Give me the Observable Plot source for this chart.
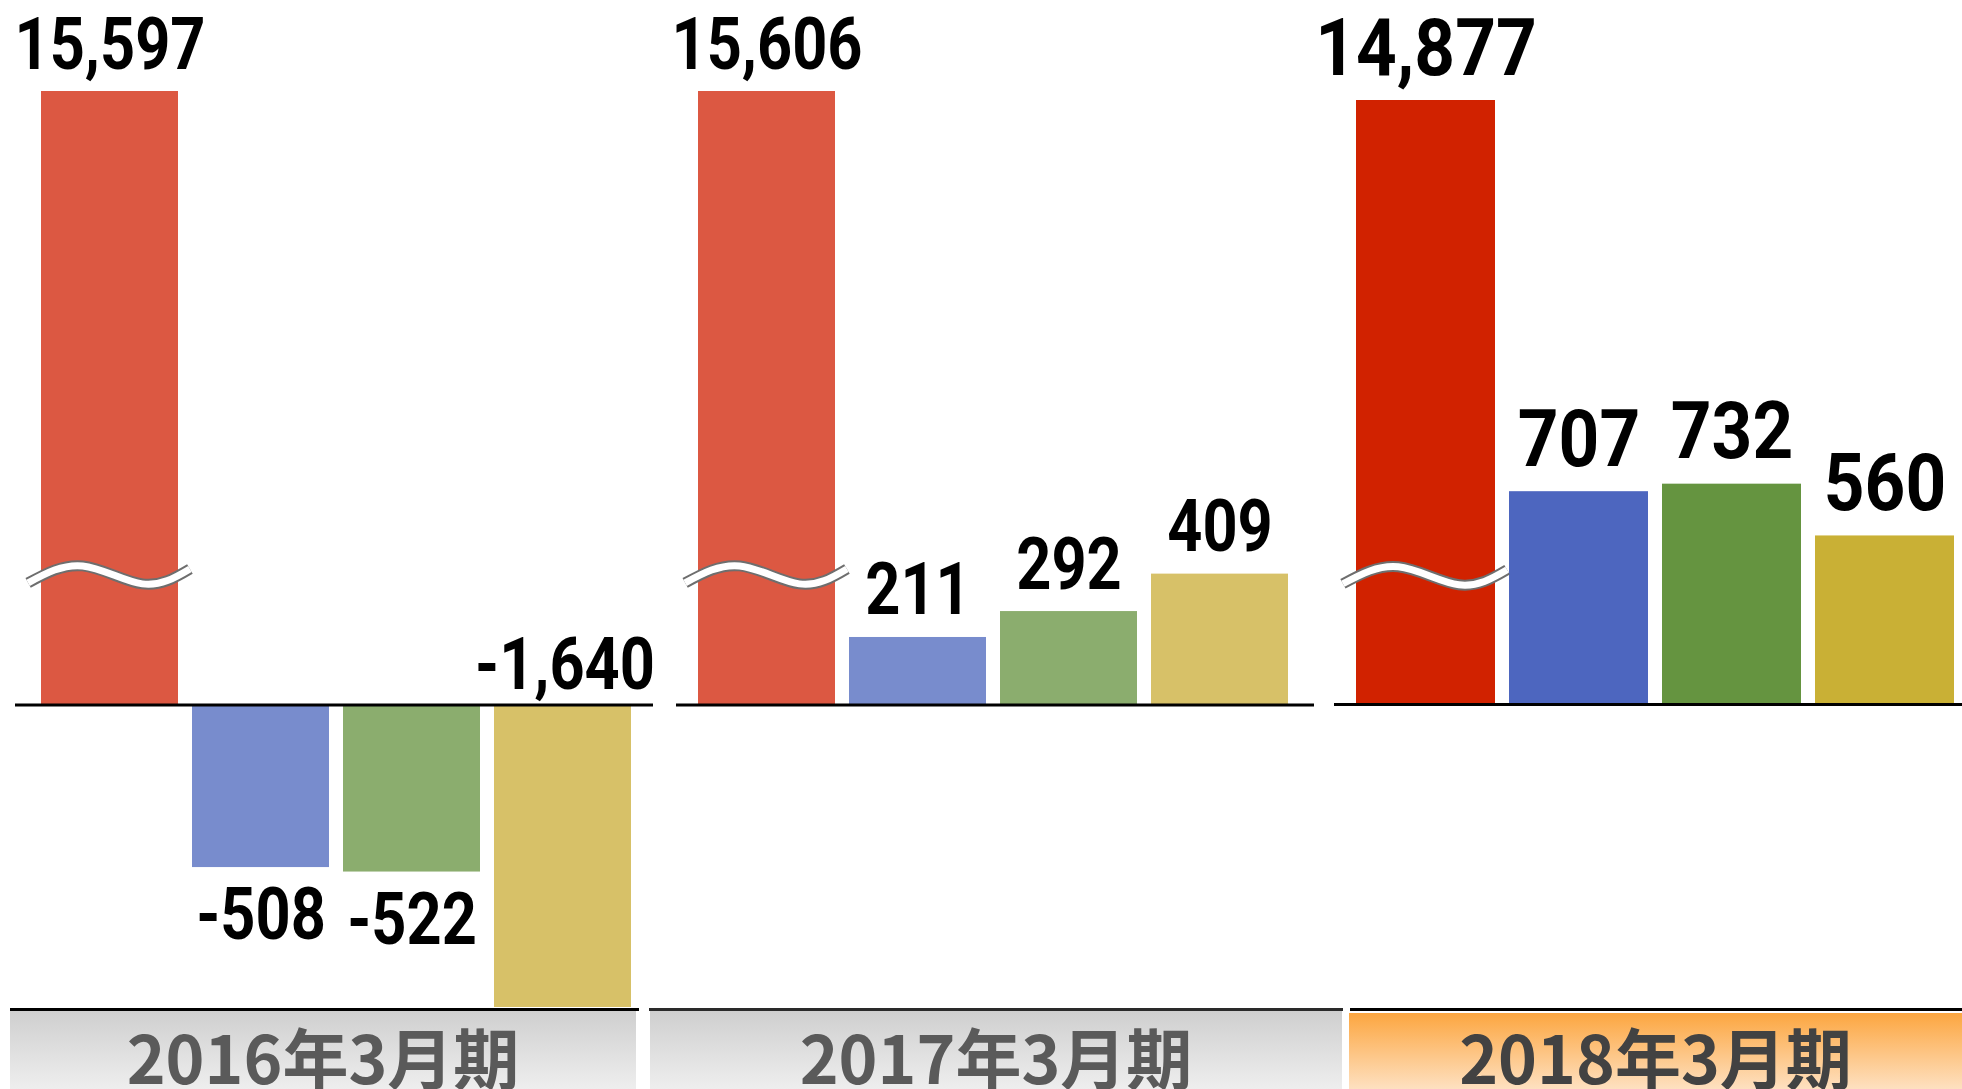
<!DOCTYPE html>
<html><head><meta charset="utf-8">
<script src="https://cdn.jsdelivr.net/npm/d3@7"></script>
<script src="https://cdn.jsdelivr.net/npm/@observablehq/plot@0.6"></script>
<style>
html,body{margin:0;padding:0;background:#fff;}
#root{position:relative;width:1962px;height:1089px;overflow:hidden;background:#fff;}
#root svg{position:absolute;left:0;top:0;}
.strip-line{position:absolute;top:1008px;height:3px;background:#000;}
.strip{position:absolute;top:1011px;height:78px;overflow:hidden;}
.strip .lbl{position:absolute;left:0;right:0;top:11px;text-align:center;font-family:"Noto Sans CJK JP","Noto Sans",sans-serif;font-weight:700;font-size:66px;line-height:66px;color:#5a5a5a;white-space:nowrap;}
</style></head><body><div id="root"></div>
<script>
// ---- data ----
const metrics = ["売上高", "営業利益", "経常利益", "当期純利益"];
const periods = ["2016年3月期", "2017年3月期", "2018年3月期"];
const values2016 = [15597, -508, -522, -1640];
const values2017 = [15606, 211, 292, 409];
const values2018 = [14877, 707, 732, 560];
const colorsPast = ["#dc5842", "#788ccd", "#8bad6e", "#d7c168"];
const colorsCurrent = ["#d12200", "#4d66bf", "#659440", "#c9b035"];
const highlightPeriod = "2018年3月期";

// ---- layout (not data) ----
const W = 1962, H = 1008, BOTTOM = 1007;
const FONT = 'Roboto,"Noto Sans",sans-serif';
const layout = [
  {values: values2016, colors: colorsPast,    frame: [15, 653],   bars: [34, 638],   base: 704.5, ppu: 0.32,  brk: 405, topPx: 91,  font: 73, squeeze: 0.84, gap: 23, strip: [10, 636],  line: [10, 639]},
  {values: values2017, colors: colorsPast,    frame: [676, 1314], bars: [690, 1296], base: 704.5, ppu: 0.32,  brk: 405, topPx: 91,  font: 73, squeeze: 0.84, gap: 23, strip: [650, 1342], line: [649, 1343]},
  {values: values2018, colors: colorsCurrent, frame: [1334, 1962], bars: [1348, 1962], base: 704, ppu: 0.301, brk: 426, topPx: 100, font: 79, squeeze: 0.9, gap: 26, strip: [1349, 1962], line: [1350, 1962]}
];

const fmt = d3.formatLocale({decimal: ".", thousands: ",", grouping: [3], currency: ["", ""], minus: "-"}).format(",");

// wave-shaped axis break (decoration): offsets relative to band centre (fraction of bandwidth, px)
const wavePts = [[-0.594, 8], [-0.196, -9], [0.24, 9], [0.587, -6]];
function breakMark(cat, brk) {
  return (index, scales) => {
    const x = scales.x, y = scales.y;
    const bw = x.bandwidth();
    const cx = x(cat) + bw / 2, cy = y(brk);
    const pts = wavePts.map(([u, v]) => [cx + u * bw, cy + v]);
    const line = d3.line().curve(d3.curveNatural);
    const g = d3.create("svg:g");
    g.append("path").attr("d", line(pts)).attr("fill", "none").attr("stroke", "#6e6e6e").attr("stroke-width", 11);
    g.append("path").attr("d", line(pts)).attr("fill", "none").attr("stroke", "#ffffff").attr("stroke-width", 7);
    return g.node();
  };
}

const root = document.getElementById("root");

layout.forEach((p, i) => {
  const data = metrics.map((m, j) => ({metric: m, value: p.values[j], color: p.colors[j]}));
  // visible value range; the first bar exceeds it and is shown broken (clamped)
  const lo = -(BOTTOM - p.base) / p.ppu;
  const hi = (p.base - p.topPx) / p.ppu;
  const textOpts = {x: "metric", text: d => fmt(d.value), fontSize: p.font, fontWeight: "bold", fontFamily: FONT, fill: "#000"};
  const chart = Plot.plot({
    width: W, height: H,
    marginLeft: p.frame[0], marginRight: W - p.frame[1], marginTop: p.topPx, marginBottom: H - BOTTOM,
    style: {background: "transparent", overflow: "visible"},
    x: {domain: metrics, range: p.bars, paddingInner: 0.093, paddingOuter: 0.0465, axis: null},
    y: {domain: [lo, hi], clamp: true, axis: null},
    color: {type: "identity"},
    marks: [
      Plot.barY(data, {x: "metric", y: "value", fill: "color"}),
      breakMark(metrics[0], p.brk),
      Plot.ruleY([0], {stroke: "#000", strokeWidth: 3}),
      Plot.text(data.filter(d => d.value >= 0), {...textOpts, y: "value", lineAnchor: "bottom", dy: -p.gap}),
      Plot.text(data.filter(d => d.value < 0 && d.value >= lo), {...textOpts, y: "value", lineAnchor: "top", dy: 20}),
      Plot.text(data.filter(d => d.value < lo), {...textOpts, y: d => 0, lineAnchor: "bottom", dy: -16, dx: 2})
    ]
  });
  // condense the value labels horizontally (the reference uses a narrow typeface)
  chart.querySelectorAll('g[aria-label="text"] text').forEach(t => {
    const tr = t.getAttribute("transform") || "";
    t.setAttribute("transform", tr + ` scale(${p.squeeze},1)`);
  });
  root.appendChild(chart);

  const ln = document.createElement("div");
  ln.className = "strip-line";
  ln.style.left = p.line[0] + "px";
  ln.style.width = (p.line[1] - p.line[0]) + "px";
  if (i === 1) ln.style.background = "#2a2a2a";
  root.appendChild(ln);

  const st = document.createElement("div");
  st.className = "strip";
  st.style.left = p.strip[0] + "px";
  st.style.width = (p.strip[1] - p.strip[0]) + "px";
  const hiP = periods[i] === highlightPeriod;
  st.style.background = hiP ? "linear-gradient(to bottom, #fca640, #fee2c4)" : "linear-gradient(to bottom, #cfcfcf, #eeeeee)";
  if (hiP) st.style.top = "1013px";
  const lb = document.createElement("div");
  lb.className = "lbl";
  lb.textContent = periods[i];
  if (hiP) { lb.style.color = "#424242"; lb.style.top = "9px"; }
  st.appendChild(lb);
  root.appendChild(st);
});
</script>
</body></html>
